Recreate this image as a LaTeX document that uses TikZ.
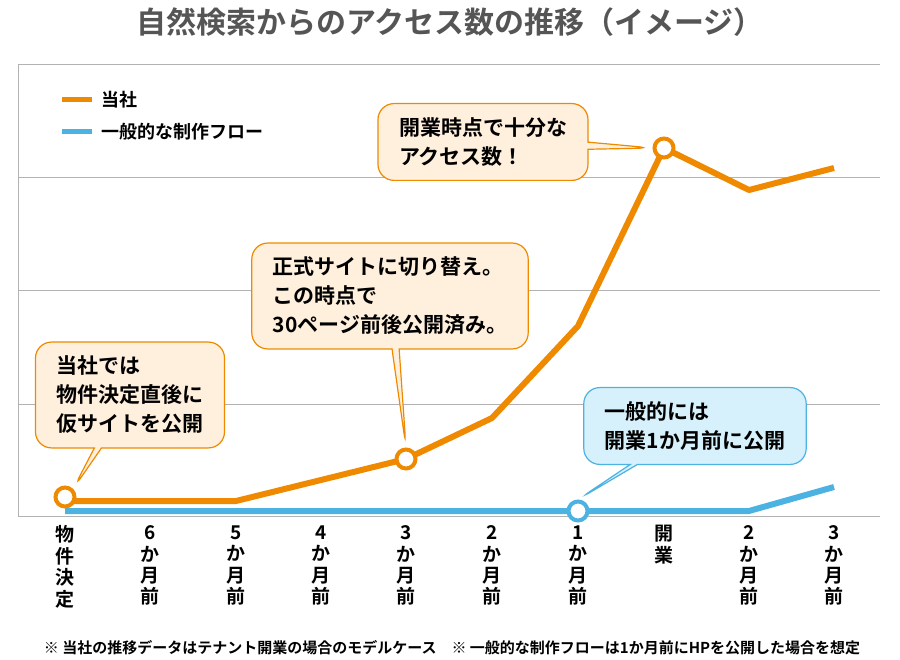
\documentclass[tikz,border=0pt]{standalone}
\usepackage{fontspec}
\setmainfont{Noto Sans CJK JP}[BoldFont={* Bold}]
\usetikzlibrary{shapes.callouts,positioning}
\definecolor{orangeline}{HTML}{EF8A00}
\definecolor{blueline}{HTML}{4CB2E2}
\definecolor{orangefill}{HTML}{FFF0DD}
\definecolor{bluefill}{HTML}{D6F1FB}
\definecolor{titlegray}{HTML}{555555}
\tikzset{
  gridline/.style={draw=black!30, line width=1pt},
  oursline/.style={draw=orangeline, line width=6pt, line join=round},
  flowline/.style={draw=blueline, line width=6pt, line join=round},
  dotmark/.style={circle, draw=#1, line width=4pt, fill=white, minimum size=19pt, inner sep=0pt},
  balloon/.style={rectangle callout, rounded corners=16pt, draw=#1, line width=1.2pt,
    align=left, font=\bfseries\fontsize{21}{29}\selectfont, inner xsep=21pt, inner ysep=14pt},
  ticklabel/.style={anchor=north, align=center, font=\bfseries\fontsize{19}{21.5}\selectfont}
}
\begin{document}
\begin{tikzpicture}[x=1pt,y=-1pt]
  \useasboundingbox[fill=white] (0,0) rectangle (900,660);
  \node[text=titlegray, font=\bfseries\fontsize{30}{34}\selectfont] (title) at (450,22)
    {自然検索からのアクセス数の推移（イメージ）};
  % grid
  \foreach \y in {65,178,291,404,516}
    \draw[gridline] (18,\y) -- (880,\y);
  \draw[gridline] (18,65) -- (18,516);
  % lines
  \draw[flowline] (65,511) -- (749,511) -- (834,487);
  \draw[oursline] (65,501) -- (236,501) -- (406,459) -- (492,418) -- (578,326)
    -- (664,148) -- (749,190) -- (834,168);
  \node[dotmark=orangeline] (start) at (65,497) {};
  \node[dotmark=orangeline] (switch) at (406,459) {};
  \node[dotmark=orangeline] (open) at (664,148) {};
  \node[dotmark=blueline] (flow) at (578,511) {};
  % legend
  \draw[oursline, line width=5pt] (62,100) coordinate (la) -- (92,100) coordinate (lb);
  \node[anchor=west, font=\bfseries\fontsize{18}{22}\selectfont] (ours) at (98,100) {当社};
  \draw[flowline, line width=5pt] (62,132) coordinate (lc) -- (92,132) coordinate (ld);
  \node[anchor=west, font=\bfseries\fontsize{18}{22}\selectfont] (general) at (98,132) {一般的な制作フロー};
  % callouts
  \node[balloon=orangeline, fill=orangefill, callout absolute pointer={(start.north east)}]
    (note1) at (130,395) {当社では\\物件決定直後に\\仮サイトを公開};
  \node[balloon=orangeline, fill=orangefill, callout absolute pointer={(switch.north)}]
    (note2) at (390,296) {正式サイトに切り替え。\\この時点で\\30ページ前後公開済み。};
  \node[balloon=orangeline, fill=orangefill, callout absolute pointer={(open.west)}]
    (note3) at (483,142) {開業時点で十分な\\アクセス数！};
  \node[balloon=blueline, fill=bluefill, callout absolute pointer={(flow.north)}]
    (note4) at (695,426) {一般的には\\開業1か月前に公開};
  % x labels
  \node[ticklabel] (t0) at (65,522) {物\\件\\決\\定};
  \node[ticklabel] (t1) at (150,522) {6\\か\\月\\前};
  \node[ticklabel] (t2) at (236,522) {5\\か\\月\\前};
  \node[ticklabel] (t3) at (321,522) {4\\か\\月\\前};
  \node[ticklabel] (t4) at (406,522) {3\\か\\月\\前};
  \node[ticklabel] (t5) at (492,522) {2\\か\\月\\前};
  \node[ticklabel] (t6) at (578,522) {1\\か\\月\\前};
  \node[ticklabel] (t7) at (664,522) {開\\業};
  \node[ticklabel] (t8) at (749,522) {2\\か\\月\\前};
  \node[ticklabel] (t9) at (834,522) {3\\か\\月\\前};
  % footnote
  \node[font=\bfseries\fontsize{15}{18}\selectfont] (foot) at (452,648)
    {※ 当社の推移データはテナント開業の場合のモデルケース\quad ※ 一般的な制作フローは1か月前にHPを公開した場合を想定};
\end{tikzpicture}
\end{document}
